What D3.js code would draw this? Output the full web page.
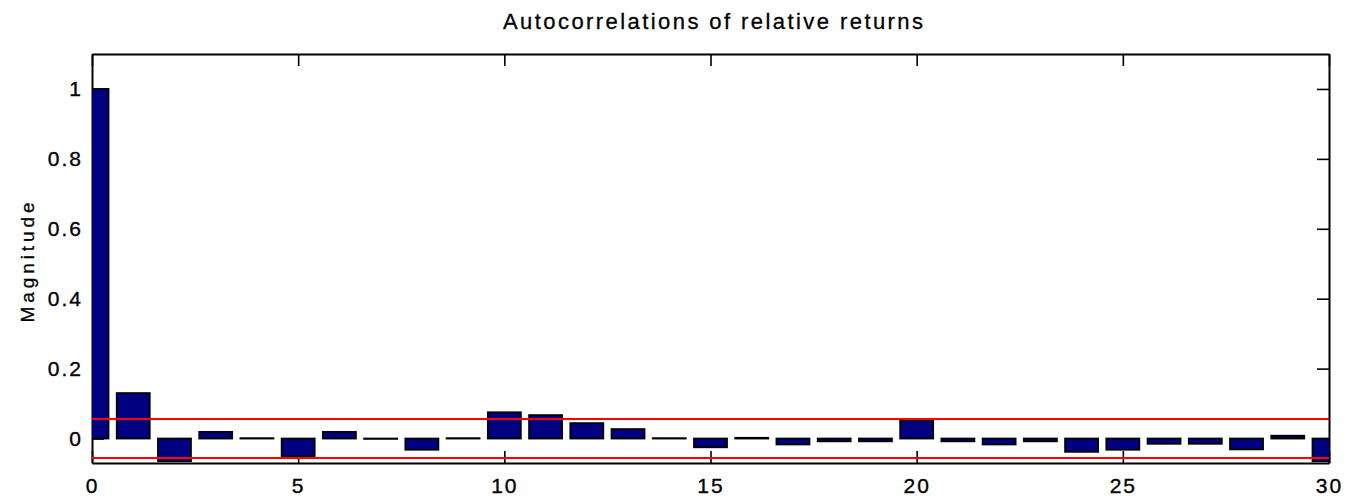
<!DOCTYPE html>
<html>
<head>
<meta charset="utf-8">
<script src="https://cdn.jsdelivr.net/npm/d3@7"></script>
<style>
  html, body { margin: 0; padding: 0; background: #fff; }
  svg { display: block; }
  text { font-family: "Liberation Sans", Arial, Helvetica, sans-serif; fill: #000; }
</style>
</head>
<body>
<svg id="chart" width="1350" height="503"></svg>
<script>
// Sample autocorrelation of relative returns, lags 0..30
const lags = d3.range(0, 31);
const acf = [1.0, 0.13, -0.065, 0.019, 0.001, -0.051, 0.019, -0.001, -0.032, 0.001,
             0.075, 0.067, 0.044, 0.027, 0.001, -0.025, 0.002, -0.017, -0.008, -0.008,
             0.052, -0.008, -0.017, -0.008, -0.038, -0.032, -0.015, -0.015, -0.031, 0.008,
             -0.065];
// Approximate 95% confidence bounds
const bounds = [0.056, -0.056];
const xTicks = [0, 5, 10, 15, 20, 25, 30];
const yTicks = [0, 0.2, 0.4, 0.6, 0.8, 1];
const xDomain = [0, 30];
const yDomain = [-0.07, 1.1];

const svg = d3.select("#chart");
const W = 1350, H = 503;
const m = { left: 92, right: 21, top: 54, bottom: 40 };
const x = d3.scaleLinear().domain(xDomain).range([m.left, W - m.right]);
const y = d3.scaleLinear().domain(yDomain).range([H - m.bottom, m.top]);
const tickLen = 12;
const barW = 0.8;

svg.append("defs").append("clipPath").attr("id", "plot-clip")
  .append("rect")
  .attr("x", m.left).attr("y", m.top)
  .attr("width", W - m.left - m.right).attr("height", H - m.top - m.bottom);

// Axes (drawn beneath the data)
const fmt = d => String(+d.toFixed(1));
const axisStyle = g => {
  g.selectAll(".domain").attr("stroke", "#000").attr("stroke-width", 2);
  g.selectAll(".tick line").attr("stroke", "#000").attr("stroke-width", 1.6);
  g.selectAll(".tick text")
    .attr("font-size", 21).attr("fill", "#000")
    .attr("stroke", "#000").attr("stroke-width", 0.35)
    .attr("font-family", "Liberation Sans, Arial, sans-serif")
    .style("letter-spacing", "2px");
};

svg.append("g").attr("transform", `translate(0,${H - m.bottom})`)
  .call(d3.axisBottom(x).tickValues(xTicks).tickFormat(fmt)
    .tickSizeInner(-tickLen).tickSizeOuter(0).tickPadding(15))
  .call(axisStyle)
  .call(g => g.selectAll(".tick text").attr("dy", "0.71em"));

svg.append("g").attr("transform", `translate(${m.left},0)`)
  .call(d3.axisLeft(y).tickValues(yTicks).tickFormat(fmt)
    .tickSizeInner(-tickLen).tickSizeOuter(0).tickPadding(9))
  .call(axisStyle);

svg.append("g").attr("transform", `translate(0,${m.top})`)
  .call(d3.axisTop(x).tickValues(xTicks).tickFormat("")
    .tickSizeInner(-tickLen).tickSizeOuter(0))
  .call(axisStyle);

svg.append("g").attr("transform", `translate(${W - m.right},0)`)
  .call(d3.axisRight(y).tickValues(yTicks).tickFormat("")
    .tickSizeInner(-tickLen).tickSizeOuter(0))
  .call(axisStyle);

// Bars
svg.append("g").attr("clip-path", "url(#plot-clip)")
  .selectAll("rect")
  .data(lags.map((l, i) => ({ lag: l, v: acf[i] })))
  .join("rect")
  .attr("x", d => x(d.lag - barW / 2))
  .attr("width", d => x(d.lag + barW / 2) - x(d.lag - barW / 2))
  .attr("y", d => y(Math.max(0, d.v)))
  .attr("height", d => Math.abs(y(d.v) - y(0)))
  .attr("fill", "#000080")
  .attr("stroke", "#000")
  .attr("stroke-width", 1.8);

// Confidence bounds
svg.append("g").selectAll("line")
  .data(bounds)
  .join("line")
  .attr("x1", x(xDomain[0])).attr("x2", x(xDomain[1]))
  .attr("y1", d => y(d)).attr("y2", d => y(d))
  .attr("stroke", "#ff0000")
  .attr("stroke-width", 2);

// Title and axis label
svg.append("text")
  .attr("x", 713).attr("y", 29)
  .attr("text-anchor", "middle")
  .attr("font-size", 22)
  .attr("stroke", "#000").attr("stroke-width", 0.3)
  .attr("textLength", 420).attr("lengthAdjust", "spacing")
  .text("Autocorrelations of relative returns");

svg.append("text")
  .attr("transform", `translate(34,${(m.top + H - m.bottom) / 2 + 4}) rotate(-90)`)
  .attr("text-anchor", "middle")
  .attr("font-size", 19)
  .attr("stroke", "#000").attr("stroke-width", 0.3)
  .attr("textLength", 120).attr("lengthAdjust", "spacing")
  .text("Magnitude");
</script>
</body>
</html>
